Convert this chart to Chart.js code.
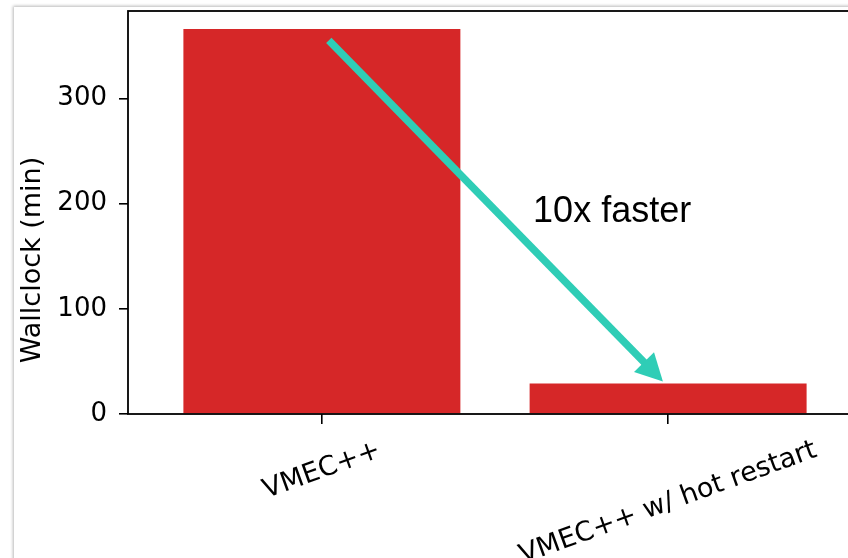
<!DOCTYPE html>
<html>
<head>
<meta charset="utf-8">
<script src="https://cdn.jsdelivr.net/npm/chart.js@4/dist/chart.umd.min.js"></script>
<style>
  html, body { margin: 0; padding: 0; background: #fff; overflow: hidden; width: 848px; height: 558px; }
  .card { position: absolute; left: 14px; top: 7px; width: 900px; height: 600px; background: #fff;
          box-shadow: -1px -1px 3px rgba(0,0,0,0.28); }
  #c { position: absolute; left: 0; top: 0; }
</style>
</head>
<body>
<div class="card"></div>
<canvas id="c" width="880" height="558" style="width:880px;height:558px"></canvas>
<script>
// Wall-clock time of the two runs
const categories = ['VMEC++', 'VMEC++ w/ hot restart'];
const wallclockMin = [366, 29];
const yTicks = [0, 100, 200, 300];
const yLabel = 'Wallclock (min)';

// Speed-up annotation (data coordinates: category index, minutes)
const speedupText = '10x faster';
const arrowFrom = [0.02, 355];
const arrowTo = [0.985, 31];
const speedupAt = [0.61, 182];

const AXIS_FONT = '27px "DejaVu Sans"';
const BAR_RED = '#d62728';
const TEAL = '#2fcdb6';

const framePlugin = {
  id: 'frame',
  afterDatasetsDraw(chart) {
    const { ctx, chartArea: a, scales: { x, y } } = chart;
    ctx.save();

    // spines
    ctx.strokeStyle = '#000';
    ctx.lineWidth = 1.8;
    ctx.strokeRect(a.left, a.top, a.right - a.left, a.bottom - a.top);

    // y-axis label
    ctx.fillStyle = '#000';
    ctx.font = AXIS_FONT;
    ctx.textAlign = 'center';
    ctx.textBaseline = 'middle';
    ctx.save();
    ctx.translate(33, 260);
    ctx.rotate(-Math.PI / 2);
    ctx.fillText(yLabel, 0, 0);
    ctx.restore();

    // rotated category labels, centred under their ticks
    const theta = 20 * Math.PI / 180;
    const lineH = 31;
    const top = a.bottom + 21;
    categories.forEach((label, i) => {
      const w = ctx.measureText(label).width;
      const boxH = w * Math.sin(theta) + lineH * Math.cos(theta);
      ctx.save();
      ctx.translate(x.getPixelForValue(i), top + boxH / 2);
      ctx.rotate(-theta);
      ctx.fillText(label, 0, 0);
      ctx.restore();
    });

    // arrow
    const x0 = x.getPixelForValue(arrowFrom[0]), y0 = y.getPixelForValue(arrowFrom[1]);
    const x1 = x.getPixelForValue(arrowTo[0]), y1 = y.getPixelForValue(arrowTo[1]);
    const ang = Math.atan2(y1 - y0, x1 - x0);
    const headLen = 27, headHalf = 14;
    const bx = x1 - headLen * Math.cos(ang), by = y1 - headLen * Math.sin(ang);
    ctx.strokeStyle = TEAL;
    ctx.fillStyle = TEAL;
    ctx.lineWidth = 7.5;
    ctx.lineCap = 'butt';
    ctx.beginPath();
    ctx.moveTo(x0, y0);
    ctx.lineTo(bx + 2 * Math.cos(ang), by + 2 * Math.sin(ang));
    ctx.stroke();
    ctx.beginPath();
    ctx.moveTo(x1, y1);
    ctx.lineTo(bx + headHalf * Math.sin(ang), by - headHalf * Math.cos(ang));
    ctx.lineTo(bx - headHalf * Math.sin(ang), by + headHalf * Math.cos(ang));
    ctx.closePath();
    ctx.fill();

    // annotation text
    ctx.fillStyle = '#000';
    ctx.font = '36px "Liberation Sans", Arial, sans-serif';
    ctx.textAlign = 'left';
    ctx.textBaseline = 'alphabetic';
    ctx.fillText(speedupText, x.getPixelForValue(speedupAt[0]), y.getPixelForValue(speedupAt[1]));

    ctx.restore();
  }
};

new Chart(document.getElementById('c'), {
  type: 'bar',
  data: {
    datasets: [{
      data: wallclockMin.map((v, i) => ({ x: i, y: v })),
      backgroundColor: BAR_RED,
      borderWidth: 0,
      barPercentage: 0.8,
      categoryPercentage: 1.0
    }]
  },
  options: {
    responsive: false,
    animation: false,
    devicePixelRatio: 1,
    layout: { padding: { top: 11, right: 18, left: 0, bottom: 0 } },
    plugins: { legend: { display: false }, tooltip: { enabled: false } },
    scales: {
      x: {
        type: 'linear',
        offset: false,
        min: -0.56,
        max: 1.56,
        afterBuildTicks: s => { s.ticks = categories.map((_, i) => ({ value: i })); },
        afterFit: s => { s.height = 144; s.paddingLeft = 0; s.paddingRight = 0; },
        ticks: { display: false },
        border: { display: false },
        grid: { offset: false, drawOnChartArea: false, drawTicks: true, tickLength: 10, color: '#000', lineWidth: 1.6 }
      },
      y: {
        min: 0,
        max: 383,
        afterBuildTicks: s => { s.ticks = yTicks.map(v => ({ value: v })); },
        afterFit: s => { s.width = 128; s.paddingTop = 0; s.paddingBottom = 0; },
        ticks: { color: '#000', font: { family: 'DejaVu Sans', size: 26 }, padding: 12 },
        border: { display: false },
        grid: { drawOnChartArea: false, drawTicks: true, tickLength: 9, color: '#000', lineWidth: 1.6 }
      }
    }
  },
  plugins: [framePlugin]
});
</script>
</body>
</html>
